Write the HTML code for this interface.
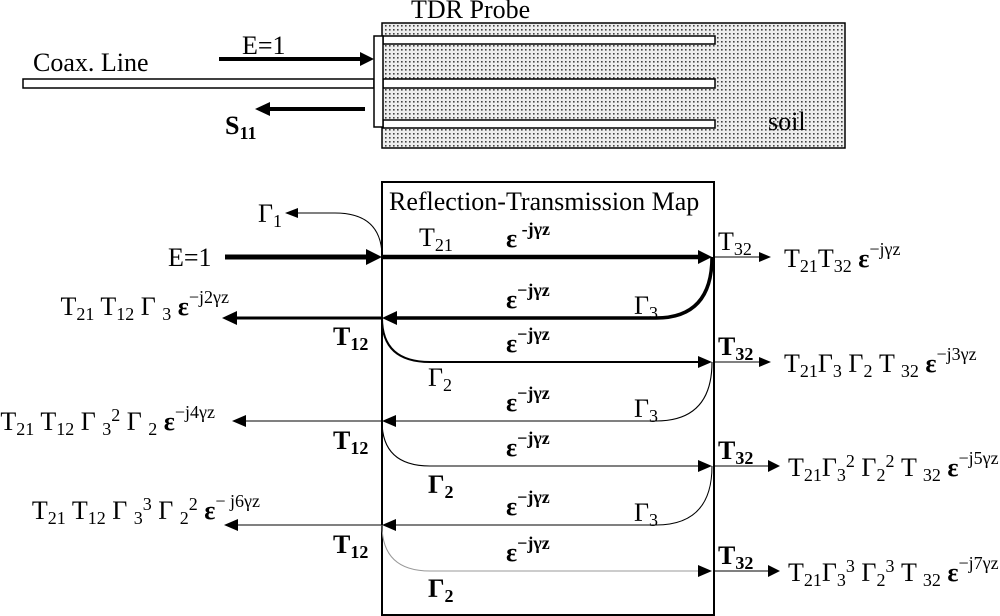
<!DOCTYPE html>
<html><head><meta charset="utf-8"><style>
html,body{margin:0;padding:0;background:#fff}
svg{display:block}
text{font-family:"Liberation Serif",serif;font-size:26px;fill:#000}
.b{font-weight:bold}
.s{font-size:18px}
.e{text-anchor:end}
</style></head><body>
<svg width="1000" height="616" viewBox="0 0 1000 616" xmlns="http://www.w3.org/2000/svg">
<defs>
<pattern id="dots" width="4" height="4" patternUnits="userSpaceOnUse">
<rect width="4" height="4" fill="#eeeeee"/>
<rect x="1" y="1" width="1.6" height="1.6" fill="#444"/>
</pattern>
</defs>
<rect x="382" y="23" width="463" height="125" fill="url(#dots)" stroke="#000" stroke-width="1.5"/>
<rect x="383" y="36" width="332" height="8" fill="#fff" stroke="#000" stroke-width="1.5"/>
<rect x="383" y="79" width="332" height="9" fill="#fff" stroke="#000" stroke-width="1.5"/>
<rect x="383" y="120" width="332" height="8" fill="#fff" stroke="#000" stroke-width="1.5"/>
<rect x="23" y="79" width="351" height="9" fill="#fff" stroke="#000" stroke-width="1.5"/>
<rect x="374" y="36" width="9" height="91" fill="#fff" stroke="#000" stroke-width="1.5"/>
<text x="411" y="18">TDR Probe</text>
<text x="33" y="71">Coax. Line</text>
<text x="242" y="54">E=1</text>
<line x1="219" y1="59" x2="362" y2="59" stroke="#000" stroke-width="4"/>
<polygon points="374,59 360,52 360,66"/>
<line x1="264" y1="109" x2="365" y2="109" stroke="#000" stroke-width="4"/>
<polygon points="255,109 270,102 270,116"/>
<text x="225" y="134" class="b">S<tspan class="s" dy="5">11</tspan></text>
<text x="768" y="130">soil</text>

<rect x="382" y="182" width="332" height="433" fill="none" stroke="#000" stroke-width="2"/>
<text x="389" y="210">Reflection-Transmission Map</text>

<path d="M382,257 Q382,213 335,213 L294,213" fill="none" stroke="#000" stroke-width="1"/>
<polygon points="285,213 298,208 298,218"/>
<text x="258" y="222">Γ<tspan class="s" dy="5">1</tspan></text>

<text x="168" y="266">E=1</text>
<line x1="225" y1="257" x2="368" y2="257" stroke="#000" stroke-width="5"/>
<polygon points="382,257 366,249 366,265"/>
<line x1="382" y1="257" x2="700" y2="257" stroke="#000" stroke-width="4.5"/>
<polygon points="712,257 698,250 698,264"/>
<text x="419" y="246">T<tspan class="s" dy="5">21</tspan></text>
<text x="506" y="247" class="b">ε<tspan class="s" dy="-12"> -jγz</tspan></text>
<line x1="714" y1="257" x2="760" y2="257" stroke="#000" stroke-width="1"/>
<polygon points="771,257 759,252 759,262"/>
<text x="718" y="250">T<tspan class="s" dy="5">32</tspan></text>
<text x="784" y="267">T<tspan class="s" dy="5">21</tspan><tspan dy="-5">T</tspan><tspan class="s" dy="5">32</tspan><tspan dy="-5"> </tspan><tspan class="b">ε</tspan><tspan class="s" dy="-12">−jγz</tspan></text>

<path d="M712,257 Q712,318 656,318 L396,318" fill="none" stroke="#000" stroke-width="3.5"/>
<polygon points="382,318 397,311 397,325"/>
<line x1="235" y1="318" x2="382" y2="318" stroke="#000" stroke-width="3"/>
<polygon points="222,318 237,311 237,325"/>
<text x="506" y="308" class="b">ε<tspan class="s" dy="-12">−jγz</tspan></text>
<text x="634" y="314">Γ<tspan class="s" dy="5">3</tspan></text>
<text x="229" y="315" class="e">T<tspan class="s" dy="5">21</tspan><tspan dy="-5"> T</tspan><tspan class="s" dy="5">12</tspan><tspan dy="-5"> Γ </tspan><tspan class="s" dy="5">3</tspan><tspan dy="-5"> </tspan><tspan class="b">ε</tspan><tspan class="s" dy="-12">−j2γz</tspan></text>
<text x="333" y="345" class="b">T<tspan class="s" dy="5">12</tspan></text>

<path d="M382,318 Q382,362 430,362 L700,362" fill="none" stroke="#000" stroke-width="2"/>
<polygon points="712,362 698,356 698,368"/>
<text x="506" y="352" class="b">ε<tspan class="s" dy="-12">−jγz</tspan></text>
<text x="428" y="386">Γ<tspan class="s" dy="5">2</tspan></text>
<line x1="714" y1="362" x2="760" y2="362" stroke="#000" stroke-width="1"/>
<polygon points="771,362 759,357 759,367"/>
<text x="718" y="355" class="b">T<tspan class="s" dy="5">32</tspan></text>
<text x="784" y="372">T<tspan class="s" dy="5">21</tspan><tspan dy="-5">Γ</tspan><tspan class="s" dy="5">3</tspan><tspan dy="-5"> Γ</tspan><tspan class="s" dy="5">2</tspan><tspan dy="-5"> T </tspan><tspan class="s" dy="5">32</tspan><tspan dy="-5"> </tspan><tspan class="b">ε</tspan><tspan class="s" dy="-12">−j3γz</tspan></text>

<path d="M712,362 Q712,421 656,421 L396,421" fill="none" stroke="#000" stroke-width="1.1"/>
<polygon points="382,421 396,415 396,427"/>
<line x1="244" y1="421" x2="382" y2="421" stroke="#000" stroke-width="1.1"/>
<polygon points="232,421 246,415 246,427"/>
<text x="506" y="411" class="b">ε<tspan class="s" dy="-12">−jγz</tspan></text>
<text x="634" y="417">Γ<tspan class="s" dy="5">3</tspan></text>
<text x="215" y="430" class="e">T<tspan class="s" dy="5">21</tspan><tspan dy="-5"> T</tspan><tspan class="s" dy="5">12</tspan><tspan dy="-5"> Γ </tspan><tspan class="s" dy="5">3</tspan><tspan class="s" dy="-14">2</tspan><tspan dy="9"> Γ </tspan><tspan class="s" dy="5">2</tspan><tspan dy="-5"> </tspan><tspan class="b">ε</tspan><tspan class="s" dy="-12">−j4γz</tspan></text>
<text x="333" y="449" class="b">T<tspan class="s" dy="5">12</tspan></text>

<path d="M382,421 Q382,466 430,466 L700,466" fill="none" stroke="#000" stroke-width="1.1"/>
<polygon points="712,466 698,460 698,472"/>
<text x="506" y="456" class="b">ε<tspan class="s" dy="-12">−jγz</tspan></text>
<text x="428" y="493" class="b">Γ<tspan class="s" dy="5">2</tspan></text>
<line x1="714" y1="466" x2="768" y2="466" stroke="#000" stroke-width="1"/>
<polygon points="780,466 768,460 768,472"/>
<text x="718" y="459" class="b">T<tspan class="s" dy="5">32</tspan></text>
<text x="788" y="476">T<tspan class="s" dy="5">21</tspan><tspan dy="-5">Γ</tspan><tspan class="s" dy="5">3</tspan><tspan class="s" dy="-14">2</tspan><tspan dy="9"> Γ</tspan><tspan class="s" dy="5">2</tspan><tspan class="s" dy="-14">2</tspan><tspan dy="9"> T </tspan><tspan class="s" dy="5">32</tspan><tspan dy="-5"> </tspan><tspan class="b">ε</tspan><tspan class="s" dy="-12">−j5γz</tspan></text>

<path d="M712,466 Q712,525 656,525 L396,525" fill="none" stroke="#000" stroke-width="1"/>
<polygon points="382,525 396,519 396,531"/>
<line x1="236" y1="525" x2="382" y2="525" stroke="#000" stroke-width="1"/>
<polygon points="224,525 238,519 238,531"/>
<text x="506" y="515" class="b">ε<tspan class="s" dy="-12">−jγz</tspan></text>
<text x="634" y="521">Γ<tspan class="s" dy="5">3</tspan></text>
<text x="260" y="519" class="e">T<tspan class="s" dy="5">21</tspan><tspan dy="-5"> T</tspan><tspan class="s" dy="5">12</tspan><tspan dy="-5"> Γ </tspan><tspan class="s" dy="5">3</tspan><tspan class="s" dy="-14">3</tspan><tspan dy="9"> Γ </tspan><tspan class="s" dy="5">2</tspan><tspan class="s" dy="-14">2</tspan><tspan dy="9"> </tspan><tspan class="b">ε</tspan><tspan class="s" dy="-12">− j6γz</tspan></text>
<text x="333" y="553" class="b">T<tspan class="s" dy="5">12</tspan></text>

<path d="M382,525 Q382,571 430,571 L700,571" fill="none" stroke="#999" stroke-width="1"/>
<polygon points="712,571 698,565 698,577"/>
<text x="506" y="561" class="b">ε<tspan class="s" dy="-12">−jγz</tspan></text>
<text x="428" y="597" class="b">Γ<tspan class="s" dy="5">2</tspan></text>
<line x1="714" y1="571" x2="768" y2="571" stroke="#000" stroke-width="1"/>
<polygon points="780,571 768,565 768,577"/>
<text x="718" y="564" class="b">T<tspan class="s" dy="5">32</tspan></text>
<text x="788" y="581">T<tspan class="s" dy="5">21</tspan><tspan dy="-5">Γ</tspan><tspan class="s" dy="5">3</tspan><tspan class="s" dy="-14">3</tspan><tspan dy="9"> Γ</tspan><tspan class="s" dy="5">2</tspan><tspan class="s" dy="-14">3</tspan><tspan dy="9"> T </tspan><tspan class="s" dy="5">32</tspan><tspan dy="-5"> </tspan><tspan class="b">ε</tspan><tspan class="s" dy="-12">−j7γz</tspan></text>
</svg>
</body></html>
